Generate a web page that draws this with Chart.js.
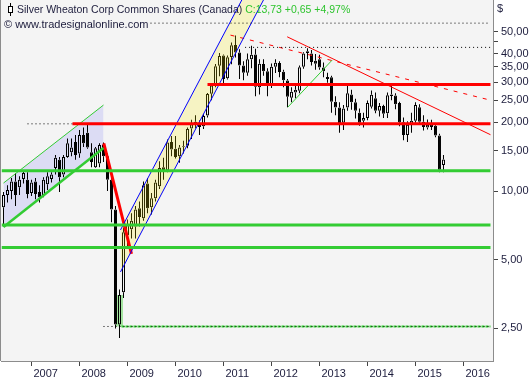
<!DOCTYPE html>
<html>
<head>
<meta charset="utf-8">
<title>Silver Wheaton Corp</title>
<script src="https://cdn.jsdelivr.net/npm/chart.js@4.4.1/dist/chart.umd.min.js"></script>
<style>
  html, body { margin: 0; padding: 0; background: #fff; }
  #wrap { width: 532px; height: 380px; position: relative; }
</style>
</head>
<body>
<div id="wrap"><canvas id="slwChart"></canvas></div>
<script>
// --- Monthly candles, Jun 2006 - Aug 2015 ---
const startYear = 2006;
const startMonth = 5; // June (0 = Jan)

const opens = [
  8.5, 9.6, 10.0, 11.0, 10.4, 11.3, 11.2,                              // 2006
  9.8, 11.0, 9.9, 9.6, 10.7, 11.3, 12.6, 13.7, 11.8, 14.1, 14.8, 16.4, // 2007
  14.6, 17.6, 18.0, 14.8, 12.7, 13.2, 16.0, 14.2, 11.2, 8.3, 2.6, 3.6, // 2008
  6.4, 6.8, 7.0, 8.4, 7.6, 10.8, 8.5, 9.3, 10.5, 12.7, 12.3, 16.4,     // 2009
  15.3, 14.2, 15.6, 15.8, 18.8, 19.8, 19.9, 19.2, 21.4, 26.7, 29.2, 35.4, // 2010
  39.2, 31.2, 38.7, 43.6, 40.5, 35.5, 33.0, 37.8, 39.6, 28.5, 36.0, 33.5, // 2011
  29.0, 35.0, 36.4, 33.3, 30.5, 25.6, 27.0, 27.5, 35.0, 40.2, 40.0, 37.2, // 2012
  37.8, 34.8, 31.0, 31.5, 24.6, 23.2, 19.9, 23.2, 26.5, 24.5, 22.0, 20.3, // 2013
  20.9, 23.4, 25.5, 22.5, 23.6, 21.9, 26.5, 26.2, 24.3, 20.0, 17.6, 19.5, // 2014
  20.3, 23.3, 20.1, 19.0, 19.6, 19.3, 17.5, 13.0                        // 2015
];
const highs = [
  9.9, 10.6, 11.4, 12.0, 11.6, 12.3, 12.1,
  11.2, 11.4, 10.6, 11.5, 12.1, 12.1, 14.4, 14.1, 14.4, 17.0, 17.0, 17.6,
  18.5, 19.0, 19.7, 16.2, 15.6, 16.2, 16.3, 14.6, 11.6, 8.6, 3.7, 6.9,
  7.5, 8.0, 8.6, 9.0, 11.0, 11.4, 9.8, 11.2, 13.5, 14.0, 16.8, 17.4,
  17.4, 15.9, 16.6, 19.0, 20.5, 21.5, 20.4, 21.8, 26.9, 29.5, 36.0, 40.2,
  39.6, 39.2, 44.8, 48.0, 41.8, 37.0, 40.0, 43.3, 42.0, 37.8, 37.8, 34.5,
  36.2, 37.8, 37.0, 34.0, 31.0, 28.5, 29.0, 35.5, 40.6, 42.2, 41.5, 39.8,
  39.5, 36.6, 33.0, 32.0, 26.0, 24.5, 23.8, 29.6, 27.8, 25.4, 23.0, 22.0,
  24.9, 27.6, 27.0, 24.3, 23.9, 27.0, 29.0, 26.8, 24.6, 21.0, 20.2, 22.0,
  24.5, 24.0, 21.5, 20.6, 20.5, 19.7, 17.8, 14.4
];
const lows = [
  7.0, 8.9, 9.2, 8.6, 9.6, 10.8, 9.3,
  9.5, 9.2, 8.9, 9.4, 10.1, 10.9, 11.8, 9.9, 11.5, 14.0, 14.2, 13.7,
  14.0, 15.6, 15.3, 12.7, 12.6, 12.7, 13.4, 10.0, 7.3, 2.5, 2.27, 3.4,
  5.6, 6.2, 6.2, 7.0, 7.4, 8.0, 7.9, 9.0, 10.2, 11.2, 12.1, 14.2,
  13.9, 13.3, 14.6, 15.4, 16.9, 18.8, 17.6, 18.7, 21.0, 25.0, 28.5, 31.8,
  29.5, 30.8, 35.9, 38.5, 31.0, 30.6, 32.0, 34.5, 26.0, 26.5, 32.0, 26.0,
  28.3, 32.9, 31.5, 28.5, 23.3, 24.5, 25.5, 26.8, 34.3, 37.8, 35.5, 34.0,
  34.0, 31.5, 29.8, 22.0, 21.5, 18.0, 18.5, 22.5, 22.7, 20.8, 19.3, 19.0,
  20.4, 23.0, 21.9, 21.2, 20.9, 20.9, 25.0, 22.8, 19.2, 16.7, 16.4, 18.0,
  19.9, 19.8, 18.4, 18.6, 18.5, 17.2, 12.1, 12.1
];
const closes = [
  9.6, 10.1, 11.0, 9.6, 11.2, 12.0, 9.7,
  10.9, 9.7, 9.4, 11.2, 11.6, 11.8, 14.0, 11.5, 14.1, 16.2, 15.5, 14.4,
  17.6, 16.2, 15.5, 13.4, 15.4, 15.9, 14.2, 11.2, 8.3, 2.6, 3.5, 6.6,
  7.1, 7.4, 8.3, 7.7, 10.6, 8.4, 9.3, 10.9, 12.6, 12.2, 16.3, 15.2,
  14.1, 15.5, 15.7, 18.7, 19.6, 20.1, 19.1, 21.3, 26.6, 29.0, 35.2, 39.0,
  31.0, 38.6, 43.5, 40.5, 35.5, 33.0, 37.8, 39.5, 28.6, 36.1, 33.5, 28.9,
  35.0, 36.5, 33.2, 30.6, 25.9, 27.2, 27.8, 34.9, 40.0, 41.0, 36.8, 36.1,
  34.8, 33.5, 31.6, 24.6, 23.2, 19.8, 23.0, 26.8, 24.5, 22.5, 19.9, 20.9,
  24.3, 26.4, 22.5, 23.6, 21.8, 26.3, 26.1, 24.0, 20.0, 17.6, 19.5, 20.3,
  23.8, 20.1, 19.1, 19.5, 19.1, 17.5, 12.4, 13.73
];

// highlighted candle box (Nov 2008)
const highlightMonth = 2008 + 10 / 12;
const highlightRange = [2.55, 3.5];

// --- Drawn levels and trend lines [year, price] ---
const supportLevels = [12.27, 7.10, 5.65];
const resistanceLevels = [29.3, 19.7];
const resistanceStarts = [2010.667, 2007.854];
const lowLevel = 2.55;
const dottedLevels = [54.4, 42.6];
const dottedStarts = [2009.479, 2011.45];
const levelEnd = 2016.5625;

const channel07Upper = [[2006.417, 10.84], [2008.5, 23.8]];
const channel07Lower = [[2006.417, 6.96], [2008.5, 15.43]];
const channel09Upper = [[2008.854, 6.75], [2011.833, 104]];
const channel09Lower = [[2008.854, 4.42], [2011.833, 68.7]];
const crashLine = [[2008.506, 16.18], [2009.083, 5.3]];
const downTrend = [[2012.327, 47.4], [2016.5625, 17.65]];
const downTrendDashed = [[2011.146, 48.2], [2016.5625, 25.0]];
const upTrend12 = [[2012.34, 23.3], [2013.265, 37.5]];

const priceTicks = [2.5, 5, 10, 15, 20, 25, 30, 35, 40, 45, 50];
const yearTicks = [2007, 2008, 2009, 2010, 2011, 2012, 2013, 2014, 2015, 2016];

const titleText = 'Silver Wheaton Corp Common Shares (Canada)';
const quoteText = 'C:13,73 +0,65 +4,97%';
const sourceText = '\u00A9 www.tradesignalonline.com';

// --- build chart data ---
const monthX = opens.map((_, i) => startYear + (startMonth + i) / 12);
const isUp = opens.map((o, i) => closes[i] >= o);

const pts = arr => arr.map(p => ({ x: p[0], y: p[1] }));
const hline = (y, x0, x1) => [{ x: x0, y: y }, { x: x1, y: y }];

function lineSet(data, color, width, extra) {
  return Object.assign({
    type: 'line', data: data, borderColor: color, borderWidth: width,
    pointRadius: 0, fill: false, tension: 0, order: 0
  }, extra || {});
}

const datasets = [];

// levels and trend lines (on top)
supportLevels.forEach(v => datasets.push(lineSet(hline(v, 2006.375, levelEnd), '#33cc33', 3)));
resistanceLevels.forEach((v, i) => datasets.push(lineSet(hline(v, resistanceStarts[i], levelEnd), '#ff0000', 3)));
datasets.push(lineSet(hline(resistanceLevels[1], 2006.917, resistanceStarts[1]), '#000', 1, { borderDash: [1, 3] }));
dottedLevels.forEach((v, i) => datasets.push(lineSet(hline(v, dottedStarts[i], levelEnd), '#000', 1, { borderDash: [1, 3] })));
datasets.push(lineSet(hline(lowLevel, 2008.5, levelEnd), '#000', 1, { borderDash: [1, 3] }));
datasets.push(lineSet(hline(lowLevel, 2008.875, levelEnd), '#33cc33', 2, { borderDash: [3, 1] }));
datasets.push(lineSet(pts(channel07Upper), '#33cc33', 1));
datasets.push(lineSet(pts(channel07Lower), '#33cc33', 2.5));
datasets.push(lineSet(pts(channel09Upper), '#0000ff', 1));
datasets.push(lineSet(pts(channel09Lower), '#0000ff', 1));
datasets.push(lineSet(pts(crashLine), '#ff0000', 3));
datasets.push(lineSet(pts(downTrend), '#ff0000', 1));
datasets.push(lineSet(pts(downTrendDashed), '#ff0000', 1, { borderDash: [4, 6] }));
datasets.push(lineSet(pts(upTrend12), '#33cc33', 1));

// yellow channel fill, drawn over the candles
datasets.push(lineSet(pts(channel09Upper), 'transparent', 1, { fill: '+1', backgroundColor: 'rgba(255,238,0,0.2)', order: 1 }));
datasets.push(lineSet(pts(channel09Lower), 'transparent', 1, { order: 1 }));

// candles
const barBase = { type: 'bar', grouped: false, inflateAmount: 0, borderSkipped: false, order: 2 };
datasets.push(Object.assign({}, barBase, {
  data: monthX.map((x, i) => ({ x: x, y: [Math.max(opens[i], closes[i]), highs[i]] })),
  backgroundColor: '#000', borderWidth: 0, barThickness: 1
}));
datasets.push(Object.assign({}, barBase, {
  data: monthX.map((x, i) => ({ x: x, y: [lows[i], Math.min(opens[i], closes[i])] })),
  backgroundColor: '#000', borderWidth: 0, barThickness: 1
}));
datasets.push(Object.assign({}, barBase, {
  data: monthX.map((x, i) => ({ x: x, y: [opens[i], closes[i]] })),
  backgroundColor: isUp.map(u => u ? 'rgba(0,0,0,0)' : '#000'),
  borderColor: '#000', borderWidth: 1, barThickness: 3
}));
datasets.push(Object.assign({}, barBase, {
  data: [{ x: highlightMonth, y: highlightRange }],
  backgroundColor: '#a4e4a0', borderWidth: 0, barThickness: 7, order: 2.5
}));

// lavender channel fill, under the candles
datasets.push(lineSet(pts(channel07Upper), 'transparent', 1, { fill: '+1', backgroundColor: '#dcdcf4', order: 3 }));
datasets.push(lineSet(pts(channel07Lower), 'transparent', 1, { order: 3 }));

// --- plugins ---
const plotBackground = {
  id: 'plotBackground',
  beforeDraw(chart) {
    const { ctx, chartArea: a } = chart;
    ctx.save();
    ctx.fillStyle = '#f4f4f4';
    ctx.fillRect(0, a.top, a.right, a.bottom - a.top);
    ctx.fillStyle = '#8c8c8c';
    ctx.fillRect(0, a.top, 1, a.bottom - a.top);
    ctx.restore();
  }
};

const headerText = {
  id: 'headerText',
  afterDraw(chart) {
    const ctx = chart.ctx;
    ctx.save();
    ctx.font = '10.5px "Liberation Sans", Arial, sans-serif';
    ctx.textBaseline = 'middle';
    ctx.fillStyle = '#1c1c3c';
    ctx.fillText(titleText, 17, 10);
    const w = ctx.measureText(titleText + ' ').width;
    ctx.fillStyle = '#2ec42e';
    ctx.fillText(quoteText, 17 + w, 10);
    ctx.font = '11px "Liberation Sans", Arial, sans-serif';
    ctx.fillStyle = '#1c1c3c';
    ctx.fillText(sourceText, 4, 25);
    ctx.fillText('$', 497, 9);
    // little candle glyph
    ctx.strokeStyle = '#000';
    ctx.lineWidth = 1;
    ctx.beginPath();
    ctx.moveTo(10.5, 3);
    ctx.lineTo(10.5, 16);
    ctx.stroke();
    ctx.fillStyle = '#fff';
    ctx.fillRect(8.5, 6.5, 4, 6);
    ctx.strokeRect(8.5, 6.5, 4, 6);
    ctx.restore();
  }
};

Chart.defaults.font.family = '"Liberation Sans", Arial, sans-serif';
Chart.defaults.font.size = 11;
Chart.defaults.color = '#1c1c3c';

document.addEventListener('DOMContentLoaded', function () {
  const ctx = document.getElementById('slwChart').getContext('2d');
  new Chart(ctx, {
    type: 'bar',
    data: { datasets: datasets },
    options: {
      responsive: true,
      maintainAspectRatio: false,
      animation: false,
      events: [],
      layout: { padding: { left: 1.5, top: 0, right: 0, bottom: 0 }, autoPadding: false },
      plugins: { legend: { display: false }, tooltip: { enabled: false } },
      scales: {
        x: {
          type: 'linear',
          min: 2006.375,
          max: 2016.615,
          offset: false,
          afterBuildTicks: s => { s.ticks = yearTicks.map(v => ({ value: v })); },
          afterFit: s => { s.height = 19; s.paddingLeft = 0; s.paddingRight = 0; },
          ticks: { callback: v => String(v), align: 'start', labelOffset: 2, padding: 1, maxRotation: 0, autoSkip: false },
          grid: { drawOnChartArea: false, tickLength: 5, tickColor: '#444', offset: false },
          border: { color: '#8c8c8c' }
        },
        y: {
          type: 'logarithmic',
          position: 'right',
          min: 1.8,
          max: 68.7,
          beginAtZero: false,
          afterBuildTicks: s => { s.ticks = priceTicks.map(v => ({ value: v })); },
          afterFit: s => { s.width = 39; s.paddingTop = 0; s.paddingBottom = 0; },
          ticks: {
            callback: v => v === 45 ? '' : v.toFixed(2).replace('.', ','),
            padding: 3, autoSkip: false
          },
          grid: { drawOnChartArea: false, tickLength: 5, tickColor: '#444' },
          border: { color: '#8c8c8c' }
        }
      }
    },
    plugins: [plotBackground, headerText]
  });
});
</script>
</body>
</html>
